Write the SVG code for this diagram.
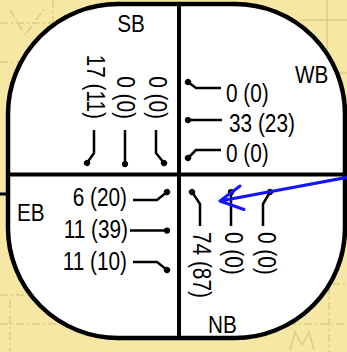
<svg xmlns="http://www.w3.org/2000/svg" width="347" height="352" viewBox="0 0 347 352">
<style>
.num{font-family:"Liberation Sans",Arial,sans-serif;font-size:26px;fill:#000}
.lbl{font-family:"Liberation Sans",Arial,sans-serif;font-size:23px;fill:#000}
.mv{fill:none;stroke:#000;stroke-width:2.5;stroke-linejoin:round;marker-end:url(#dot)}
.map{fill:none;stroke:#dccb88;stroke-width:1.5}
</style>
<defs>
<marker id="dot" viewBox="-2 -2 4 4" markerWidth="4" markerHeight="4" refX="0" refY="0" orient="auto">
<circle r="1.25" fill="#000"/>
</marker>
</defs>
<rect x="0" y="0" width="347" height="352" fill="#f6e8a4"/>
<g id="background-map">
<path class="map" d="M0,23 H60 M0,62 H50 M53,0 V70 M10,10 L25,35 L45,8" stroke-dasharray="8 3 2 3"/>
<path class="map" d="M327,0 V120 M300,20 H347 M300,73 H347"/>
<path class="map" d="M0,295 H60 M0,324 H347 M10,300 V352 M329,270 V352 M300,284 H347" stroke-dasharray="8 3 2 3"/>
<path class="map" d="M290,350 L295,332 L302,345 L309,332 L314,350"/>
<path d="M0,194 H8" stroke="#000" stroke-width="3"/>
</g>
<g id="intersection">
<rect x="8" y="4" width="337" height="334" rx="110" ry="110" fill="#fff" stroke="#000" stroke-width="4.5"/>
<path d="M179,4 V338 M8,174.5 H345" stroke="#000" stroke-width="4"/>
</g>
<g id="SB">
<text class="lbl" transform="translate(131,32) scale(0.9,1)" text-anchor="middle">SB</text>
<text class="num" transform="translate(87,119) rotate(90) scale(0.8,1)" text-anchor="end">17 (11)</text>
<text class="num" transform="translate(117,119) rotate(90) scale(0.8,1)" text-anchor="end">0 (0)</text>
<text class="num" transform="translate(149,119) rotate(90) scale(0.8,1)" text-anchor="end">0 (0)</text>
</g>
<g id="WB">
<text class="lbl" transform="translate(295,83) scale(0.9,1)">WB</text>
<text class="num" transform="translate(226,102) scale(0.8,1)">0 (0)</text>
<text class="num" transform="translate(229,132) scale(0.8,1)">33 (23)</text>
<text class="num" transform="translate(226,162) scale(0.8,1)">0 (0)</text>
</g>
<g id="EB">
<text class="lbl" transform="translate(17,221) scale(0.9,1)">EB</text>
<text class="num" transform="translate(127,206) scale(0.8,1)" text-anchor="end">6 (20)</text>
<text class="num" transform="translate(128,238) scale(0.8,1)" text-anchor="end">11 (39)</text>
<text class="num" transform="translate(127,270) scale(0.8,1)" text-anchor="end">11 (10)</text>
</g>
<g id="NB">
<text class="lbl" transform="translate(208,333) scale(0.9,1)">NB</text>
<text class="num" transform="translate(193,232) rotate(90) scale(0.8,1)">74 (87)</text>
<text class="num" transform="translate(225,232) rotate(90) scale(0.8,1)">0 (0)</text>
<text class="num" transform="translate(258,232) rotate(90) scale(0.8,1)">0 (0)</text>
</g>
<g id="connectors">
<path class="mv" d="M94,130 V153 L87,163"/>
<path class="mv" d="M125,130 V164"/>
<path class="mv" d="M156,130 V153 L164,163"/>
<path class="mv" d="M221,88 H196 L188,82"/>
<path class="mv" d="M222,120 H188"/>
<path class="mv" d="M221,150 H196 L188,158"/>
<path class="mv" d="M133,200 H157 L167,192"/>
<path class="mv" d="M130,230.5 H167"/>
<path class="mv" d="M133,262 H157 L167,270"/>
<path class="mv" d="M200,226 V204 L192,192"/>
<path class="mv" d="M231,226 V192"/>
<path class="mv" d="M263,226 V204 L270,192"/>
<path d="M349,177 L220,201 M240,186 L220,201 L244,209.5" fill="none" stroke="#1414ff" stroke-width="3" stroke-linecap="round" stroke-linejoin="round"/>
</g>
</svg>
